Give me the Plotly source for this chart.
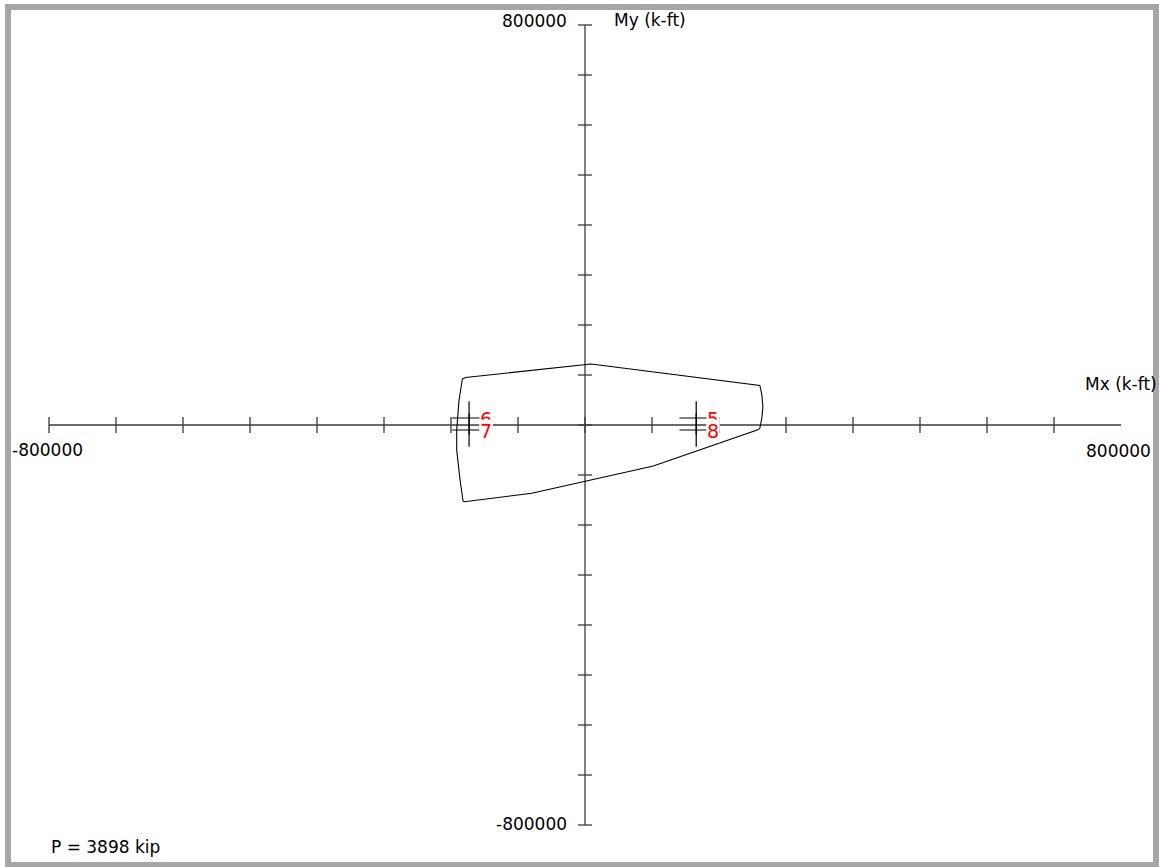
import plotly.graph_objects as go

# ---------------- data ----------------
# interaction contour at P = 3898 kip (Mx, My in k-ft)
contour_mx = [9000, 261000, 264000, 265500, 264000, 261000, 259000, 102000, -79500,
              -180000, -182000, -186500, -191500, -191500, -188000, -183000, -178500, 9000]
contour_my = [122000, 79000, 60000, 36000, 14000, -6000, -9000, -82000, -136500,
              -153500, -152000, -110000, -50000, -10000, 50000, 92000, 95000, 122000]

# load points
load_ids = ["5", "8", "6", "7"]
load_mx = [166000, 166000, -173000, -173000]
load_my = [14000, -10000, 14000, -10000]

axis_limit = 800000
x_ticks = [-800000, -700000, -600000, -500000, -400000, -300000, -200000, -100000, 0,
           100000, 200000, 300000, 400000, 500000, 600000, 700000]
y_ticks = [-800000, -700000, -600000, -500000, -400000, -300000, -200000, -100000, 0,
           100000, 200000, 300000, 400000, 500000, 600000, 700000, 800000]
axis_label_x = "Mx (k-ft)"
axis_label_y = "My (k-ft)"
p_label = "P = 3898 kip"

# ---------------- layout geometry ----------------
W, H = 1159, 867
ox, oy = 585, 425            # pixel position of origin
sx = 67 / 100000             # px per unit x
sy = 50 / 100000             # px per unit y
xr = [(0 - ox) / sx, (W - ox) / sx]
yr = [(oy - H) / sy, (oy - 0) / sy]

axis_col = "#3a3a3a"
FONT = "DejaVu Sans, Liberation Sans, Arial, sans-serif"
FS = 17
LFS = 19

fig = go.Figure()

# axes lines
fig.add_trace(go.Scatter(x=[-axis_limit, axis_limit], y=[0, 0], mode="lines",
                         line=dict(color=axis_col, width=1.3), hoverinfo="skip", showlegend=False))
fig.add_trace(go.Scatter(x=[0, 0], y=[-axis_limit, axis_limit], mode="lines",
                         line=dict(color=axis_col, width=1.3), hoverinfo="skip", showlegend=False))

# tick marks (crossing the axes)
tx, ty = [], []
half_v = 8 / sy
for v in x_ticks:
    tx += [v, v, None]
    ty += [-half_v, half_v, None]
half_h = 7 / sx
for v in y_ticks:
    tx += [-half_h, half_h, None]
    ty += [v, v, None]
fig.add_trace(go.Scatter(x=tx, y=ty, mode="lines", line=dict(color=axis_col, width=1.3),
                         hoverinfo="skip", showlegend=False))

# contour
fig.add_trace(go.Scatter(x=contour_mx, y=contour_my, mode="lines",
                         line=dict(color="black", width=1.1), hoverinfo="skip", showlegend=False))

# load points
fig.add_trace(go.Scatter(x=load_mx, y=load_my, mode="markers",
                         marker=dict(symbol="cross-thin-open", size=24, color="black",
                                     line=dict(color="black", width=1.2)),
                         hoverinfo="skip", showlegend=False))

ann = []
for lid, mx, my in zip(load_ids, load_mx, load_my):
    ann.append(dict(x=mx, y=my, xref="x", yref="y", text=lid, showarrow=False,
                    xanchor="left", yanchor="middle", xshift=10, yshift=-1,
                    font=dict(family=FONT, size=LFS, color="red"),
                    bgcolor="white", borderpad=0))

# axis end labels
ann.append(dict(x=-axis_limit, y=0, xref="x", yref="y", text=str(-axis_limit), showarrow=False,
                xanchor="center", yanchor="middle", yshift=-25, xshift=-2,
                font=dict(family=FONT, size=FS, color="black")))
ann.append(dict(x=axis_limit, y=0, xref="x", yref="y", text=str(axis_limit), showarrow=False,
                xanchor="center", yanchor="middle", yshift=-26, xshift=-3,
                font=dict(family=FONT, size=FS, color="black")))
ann.append(dict(x=0, y=axis_limit, xref="x", yref="y", text=str(axis_limit), showarrow=False,
                xanchor="right", yanchor="middle", xshift=-16, yshift=4,
                font=dict(family=FONT, size=FS, color="black")))
ann.append(dict(x=0, y=-axis_limit, xref="x", yref="y", text=str(-axis_limit), showarrow=False,
                xanchor="right", yanchor="middle", xshift=-16, yshift=1,
                font=dict(family=FONT, size=FS, color="black")))
ann.append(dict(x=0, y=axis_limit, xref="x", yref="y", text=axis_label_y, showarrow=False,
                xanchor="left", yanchor="middle", xshift=27, yshift=5,
                font=dict(family=FONT, size=FS, color="black")))
ann.append(dict(x=axis_limit, y=0, xref="x", yref="y", text=axis_label_x, showarrow=False,
                xanchor="center", yanchor="middle", yshift=41,
                font=dict(family=FONT, size=FS, color="black")))
ann.append(dict(x=49 / W, y=1 - 847 / H, xref="paper", yref="paper", text=p_label, showarrow=False,
                xanchor="left", yanchor="middle",
                font=dict(family=FONT, size=FS, color="black")))

# gray frame
shapes = [dict(type="rect", xref="paper", yref="paper",
               x0=8 / W, x1=1156 / W, y0=1 - 865 / H, y1=1 - 7 / H,
               line=dict(color="#a6a6a6", width=6), fillcolor="rgba(0,0,0,0)", layer="above")]

fig.update_layout(
    width=W, height=H,
    margin=dict(l=0, r=0, t=0, b=0),
    paper_bgcolor="white", plot_bgcolor="white",
    xaxis=dict(range=xr, visible=False, fixedrange=True),
    yaxis=dict(range=yr, visible=False, fixedrange=True),
    annotations=ann, shapes=shapes,
    showlegend=False,
)

fig.write_html("out.html", config={"displayModeBar": False},
               post_script="document.body.style.margin='0';document.body.style.overflow='hidden';")
